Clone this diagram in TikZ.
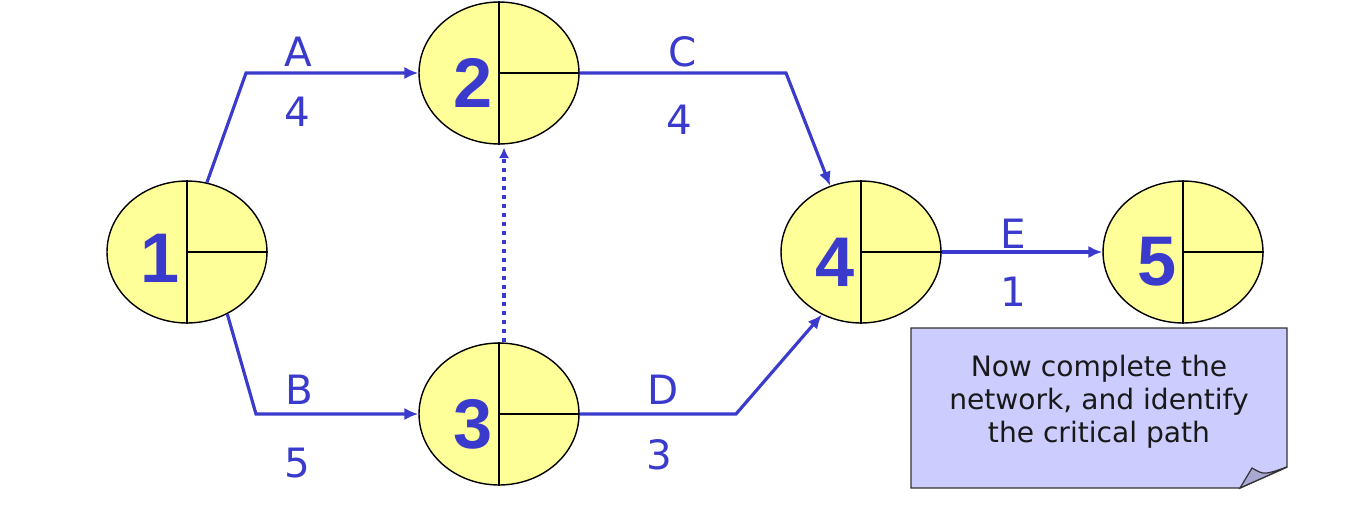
\documentclass[tikz,border=0pt]{standalone}
\usepackage{fontspec}
\setmainfont{DejaVu Sans}
\newfontfamily\numfont{Liberation Sans}
\usetikzlibrary{shapes.geometric,arrows.meta}
\definecolor{netblue}{RGB}{58,58,204}
\definecolor{nodefill}{RGB}{255,255,153}
\definecolor{notefill}{RGB}{204,204,255}
\definecolor{flapfill}{RGB}{168,168,210}
\tikzset{
  evnode/.style={ellipse, draw=black, line width=0.8pt, fill=nodefill, minimum width=3.2cm, minimum height=2.84cm, inner sep=0pt},
  evnum/.style={text=netblue, font=\numfont\bfseries\fontsize{40}{40}\selectfont, anchor=center},
  divider/.style={draw=black, line width=0.8pt},
  act/.style={draw=netblue, line width=1.8pt, -{Latex[length=8pt,width=7pt]}},
  dummy/.style={draw=netblue, line width=2.2pt, dash pattern=on 2.3pt off 2.8pt, -{Latex[length=6pt,width=6pt]}},
  lbl/.style={text=netblue, font=\fontsize{23}{23}\selectfont, anchor=center},
}
\begin{document}
\begin{tikzpicture}[x=0.02cm,y=-0.02cm]
\useasboundingbox (0,0) rectangle (1354,518);
% events
\node[evnode] (n1) at (187,252) {};
\node[evnode] (n2) at (499,73) {};
\node[evnode] (n3) at (499,414) {};
\node[evnode] (n4) at (861,252) {};
\node[evnode] (n5) at (1183,252) {};
\foreach \n in {n1,n2,n3,n4,n5}{
  \draw[divider] (\n.north) -- (\n.south);
  \draw[divider] (\n.center) -- (\n.east);
}
\node[evnum] (t1) at (160,258) {1};
\node[evnum] (t2) at (473,83) {2};
\node[evnum] (t3) at (473,424) {3};
\node[evnum] (t4) at (835,262) {4};
\node[evnum] (t5) at (1157,262) {5};
% bend points
\coordinate (bA) at (246,73);
\coordinate (bB) at (256,414);
\coordinate (bC) at (786,73);
\coordinate (bD) at (736,414);
% activities
\draw[act] (n1.74) -- (bA) -- (n2.west);
\draw[act] (n1.-57) -- (bB) -- (n3.west);
\draw[act] (n2.east) -- (bC) -- (n4.115);
\draw[act] (n3.east) -- (bD) -- (n4.238);
\draw[act] (n4.east) -- (n5.west);
\draw[dummy] ([xshift=0.1cm]n3.north) -- ([xshift=0.1cm,yshift=-0.06cm]n2.south);
% labels
\node[lbl] (lA) at (298,52) {A};
\node[lbl] (dA) at (297,112) {4};
\node[lbl] (lB) at (299,390) {B};
\node[lbl] (dB) at (297,463) {5};
\node[lbl] (lC) at (683,52) {C};
\node[lbl] (dC) at (679,120) {4};
\node[lbl] (lD) at (663,390) {D};
\node[lbl] (dD) at (659,455) {3};
\node[lbl] (lE) at (1013,234) {E};
\node[lbl] (dE) at (1013,292) {1};
% note
\draw[fill=notefill, draw=black!80, line width=0.8pt] (911,328) -- (1287,328) -- (1287,467) -- (1240,488) -- (911,488) -- cycle;
\draw[fill=flapfill, draw=black!80, line width=0.7pt] (1240,488) -- (1252,468) .. controls (1264,475) .. (1287,467) -- cycle;
\node[align=center, text=black!90, font=\fontsize{16}{18.7}\selectfont] (note) at (1099,402) {Now complete the\\network, and identify\\the critical path};
\end{tikzpicture}
\end{document}
